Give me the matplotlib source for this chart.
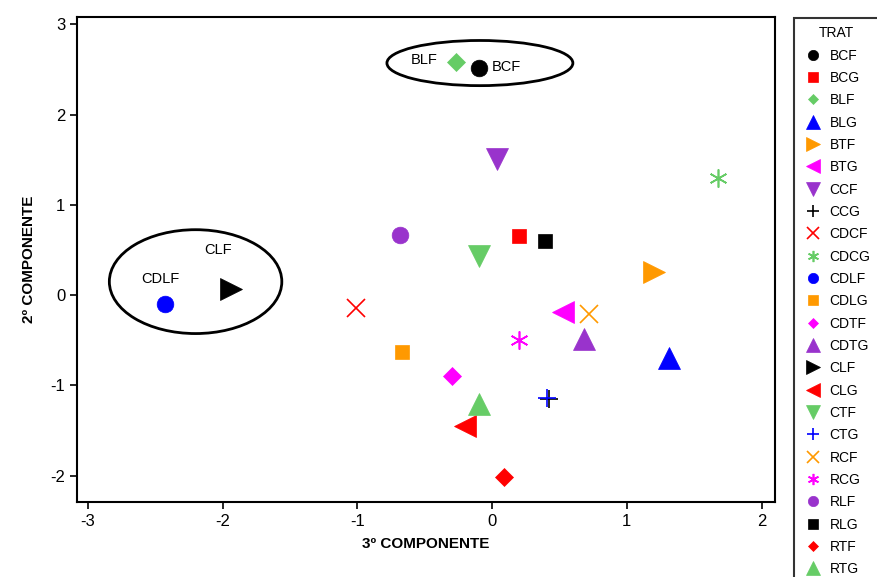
import matplotlib
matplotlib.use('Agg')
import matplotlib.pyplot as plt
from matplotlib.patches import Ellipse

plt.rcParams['font.family'] = ['Liberation Sans', 'DejaVu Sans']
plt.rcParams['axes.unicode_minus'] = False

# Treatments, coordinates (3rd component, 2nd component), style
trat = ['BCF', 'BCG', 'BLF', 'BLG', 'BTF', 'BTG', 'CCF', 'CCG', 'CDCF', 'CDCG',
        'CDLF', 'CDLG', 'CDTF', 'CDTG', 'CLF', 'CLG', 'CTF', 'CTG', 'RCF', 'RCG',
        'RLF', 'RLG', 'RTF', 'RTG']
comp3 = [-0.10, 0.20, -0.27, 1.31, 1.20, 0.53, 0.04, 0.42, -1.01, 1.68,
         -2.43, -0.67, -0.30, 0.68, -1.94, -0.20, -0.10, 0.41, 0.72, 0.20,
         -0.68, 0.39, 0.09, -0.10]
comp2 = [2.51, 0.66, 2.58, -0.70, 0.26, -0.19, 1.51, -1.15, -0.14, 1.30,
         -0.10, -0.63, -0.89, -0.49, 0.07, -1.45, 0.43, -1.14, -0.21, -0.50,
         0.67, 0.60, -2.01, -1.20]

black, red, green, blue = '#000000', '#FF0000', '#66CC66', '#0000FF'
orange, magenta, purple = '#FF9900', '#FF00FF', '#9933CC'
colors = [black, red, green, blue, orange, magenta, purple, black, red, green,
          blue, orange, magenta, purple, black, red, green, blue, orange, magenta,
          purple, black, red, green]
ast = (6, 2, 0)
markers = ['o', 's', 'D', '^', '>', '<', 'v', '+', 'x', ast,
           'o', 's', 'D', '^', '>', '<', 'v', '+', 'x', ast,
           'o', 's', 'D', '^']
sizes = {'o': 12, 's': 10.5, 'D': 9, '^': 16, '>': 16, '<': 16, 'v': 16,
         '+': 13, 'x': 13, ast: 13}

fig = plt.figure(figsize=(8.77, 5.77), dpi=100)
ax = fig.add_axes([77 / 877, 1 - 502 / 577, (775 - 77) / 877, (502 - 17) / 577])

handles = []
for name, x, y, c, m in zip(trat, comp3, comp2, colors, markers):
    h, = ax.plot(x, y, linestyle='none', marker=m, color=c, markersize=sizes[m],
                 markeredgewidth=1.2 if m in ('+', 'x', ast) else 0.5, label=name)
    handles.append(h)

# groups
ax.add_patch(Ellipse((-2.20, 0.15), 1.28, 1.15, fill=False, color='black', lw=2))
ax.add_patch(Ellipse((-0.09, 2.57), 1.38, 0.50, fill=False, color='black', lw=2))
ax.text(-2.03, 0.50, 'CLF', ha='center', va='center', fontsize=10.5)
ax.text(-2.46, 0.18, 'CDLF', ha='center', va='center', fontsize=10.5)
ax.text(-0.50, 2.60, 'BLF', ha='center', va='center', fontsize=10.5)
ax.text(0.11, 2.53, 'BCF', ha='center', va='center', fontsize=10.5)

ax.set_xlim(-3.08, 2.10)
ax.set_ylim(-2.29, 3.08)
ax.set_xticks([-3, -2, -1, 0, 1, 2])
ax.set_yticks([-2, -1, 0, 1, 2, 3])
ax.tick_params(direction='out', length=5, width=1.2, labelsize=12)
for s in ax.spines.values():
    s.set_linewidth(1.5)
ax.set_xlabel('3º COMPONENTE', fontsize=11, fontweight='bold', labelpad=6)
ax.set_ylabel('2º COMPONENTE', fontsize=11, fontweight='bold', labelpad=10)

leg = fig.legend(handles=handles, title='TRAT', loc='upper left',
                 bbox_to_anchor=(794 / 877, 1 - 18 / 577), borderaxespad=0,
                 frameon=True, fancybox=False, edgecolor='black',
                 fontsize=10, title_fontsize=10,
                 labelspacing=0.60, handlelength=1.5, handletextpad=0.45,
                 borderpad=0.6, markerscale=0.62)
leg.get_frame().set_linewidth(1.5)

fig.savefig('out.png', dpi=100)
